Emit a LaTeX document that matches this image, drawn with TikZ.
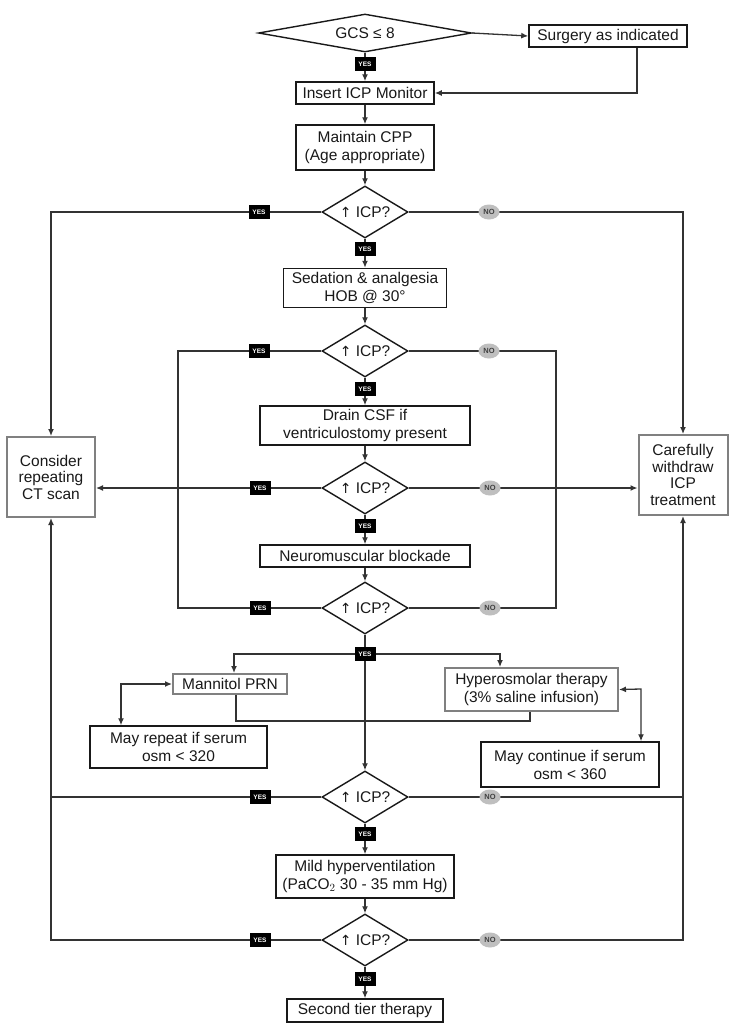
\documentclass[tikz,border=0pt]{standalone}
\usepackage{fontspec}
\setmainfont{Liberation Sans}
\newfontfamily\arrowfont{DejaVu Sans}
\usetikzlibrary{shapes.geometric,arrows.meta}
\newcommand{\uparr}{{\arrowfont\fontsize{14}{14}\selectfont ↑}}
\begin{document}
\begin{tikzpicture}[x=1pt,y=-1pt,
 conn/.style={draw=black!80, line width=1.3pt},
 arr/.style={-{Latex[length=7pt,width=6pt]}},
 darr/.style={{Latex[length=7pt,width=6pt]}-{Latex[length=7pt,width=6pt]}},
 box/.style={draw=black!90, line width=1.5pt, inner sep=0pt, align=center, fill=white, text=black!90,
   font=\fontsize{15.5}{18}\selectfont},
 gbox/.style={box, draw=black!50, line width=2pt},
 dia/.style={diamond, draw=black!90, line width=1.4pt, inner sep=0pt, fill=white, text=black!90,
   font=\fontsize{15.5}{18}\selectfont, aspect=1.6, minimum width=86pt, minimum height=52pt},
 yes/.style={fill=black, text=white, inner sep=0pt, minimum width=21pt, minimum height=14pt,
   font=\fontsize{6.5}{6.5}\bfseries\selectfont},
 no/.style={ellipse, fill=black!25, text=black!75, inner sep=0pt, minimum width=21pt, minimum height=15pt,
   font=\fontsize{7.5}{7.5}\bfseries\selectfont},
]
\useasboundingbox[fill=white] (0,0) rectangle (749,1029);

% main column
\node[dia, aspect=5.6, minimum width=213pt, minimum height=38pt] (gcs) at (365,33) {GCS ≤ 8};
\node[box, minimum width=158pt, minimum height=22pt] (surg) at (608,36) {Surgery as indicated};
\node[box, minimum width=138pt, minimum height=22pt] (ins) at (365,93) {Insert ICP Monitor};
\node[box, minimum width=138pt, minimum height=45pt] (cpp) at (365,147.5) {Maintain CPP\\(Age appropriate)};
\node[dia] (d1) at (365,212) {\uparr\ ICP?};
\node[box, minimum width=163pt, minimum height=39pt] (sed) at (365,288) {Sedation \& analgesia\\HOB @ 30°};
\node[dia] (d2) at (365,351) {\uparr\ ICP?};
\node[box, minimum width=210pt, minimum height=39pt] (drain) at (365,425.5) {Drain CSF if\\ventriculostomy present};
\node[dia] (d3) at (365,488) {\uparr\ ICP?};
\node[box, minimum width=210pt, minimum height=22pt] (neuro) at (365,556) {Neuromuscular blockade};
\node[dia] (d4) at (365,608) {\uparr\ ICP?};
\node[gbox, minimum width=114pt, minimum height=20pt] (mann) at (230,684) {Mannitol PRN};
\node[gbox, minimum width=173pt, minimum height=43pt] (hyper) at (531.5,689.5) {Hyperosmolar therapy\\(3\% saline infusion)};
\node[box, minimum width=177pt, minimum height=42pt] (rep) at (178.5,747) {May repeat if serum\\osm {<} 320};
\node[box, minimum width=178pt, minimum height=45pt] (cont) at (570,764.5) {May continue if serum\\osm {<} 360};
\node[dia] (d5) at (365,797) {\uparr\ ICP?};
\node[box, minimum width=178pt, minimum height=43pt] (mild) at (365,876.5) {Mild hyperventilation\\(PaCO$_2$ 30 - 35 mm Hg)};
\node[dia] (d6) at (365,940) {\uparr\ ICP?};
\node[box, minimum width=156pt, minimum height=23pt] (sec) at (365,1010.5) {Second tier therapy};
% side boxes
\node[gbox, minimum width=88pt, minimum height=80pt, font=\fontsize{15.5}{16.5}\selectfont] (cons) at (51,477) {Consider\\repeating\\CT scan};
\node[gbox, minimum width=89pt, minimum height=80pt, font=\fontsize{15.5}{16.5}\selectfont] (care) at (683,475) {Carefully\\withdraw\\ICP\\treatment};

% corner coordinates
\coordinate (S1) at (637,93);
\coordinate (L1) at (51,212);
\coordinate (R1) at (683,212);
\coordinate (L2) at (178,351);
\coordinate (R2) at (556,351);
\coordinate (L4) at (178,608);
\coordinate (R4) at (556,608);
\coordinate (J) at (365,654);
\coordinate (JL) at (234,654);
\coordinate (JR) at (500,654);
\coordinate (M1) at (236,721);
\coordinate (M2) at (530,721);
\coordinate (RL) at (121,684);
\coordinate (CR) at (641,689);
\coordinate (L5) at (51,797);
\coordinate (R5) at (683,797);
\coordinate (L6) at (51,940);
\coordinate (R6) at (683,940);

% connectors
\draw[conn,arr] (gcs.east) -- (surg.west);
\draw[conn,arr] (gcs.south) -- (ins.north);
\draw[conn,arr] (S1 |- surg.south) -- (S1) -- (ins.east);
\draw[conn,arr] (ins.south) -- (cpp.north);
\draw[conn,arr] (cpp.south) -- (d1.north);
\draw[conn,arr] (d1.west) -- (L1) -- (cons.north);
\draw[conn,arr] (d1.east) -- (R1) -- (care.north);
\draw[conn,arr] (d1.south) -- (sed.north);
\draw[conn,arr] (sed.south) -- (d2.north);
\draw[conn] (d2.west) -- (L2) -- (L4) -- (d4.west);
\draw[conn] (d2.east) -- (R2) -- (R4) -- (d4.east);
\draw[conn,arr] (d2.south) -- (drain.north);
\draw[conn,arr] (drain.south) -- (d3.north);
\draw[conn,arr] (d3.west) -- (d3.west -| cons.east);
\draw[conn,arr] (d3.east) -- (d3.east -| care.west);
\draw[conn,arr] (d3.south) -- (neuro.north);
\draw[conn,arr] (neuro.south) -- (d4.north);
\draw[conn] (d4.south) -- (J);
\draw[conn,arr] (J) -- (d5.north);
\draw[conn,arr] (J) -- (JL) -- (JL |- mann.north);
\draw[conn,arr] (J) -- (JR) -- (JR |- hyper.north);
\draw[conn] (M1 |- mann.south) -- (M1) -- (M2) -- (M2 |- hyper.south);
\draw[conn,darr] (mann.west) -- (RL) -- (RL |- rep.north);
\draw[conn,darr] (hyper.east) -- (CR) -- (CR |- cont.north);
\draw[conn] (d5.west) -- (L5);
\draw[conn] (d5.east) -- (R5);
\draw[conn,arr] (d5.south) -- (mild.north);
\draw[conn,arr] (mild.south) -- (d6.north);
\draw[conn,arr] (d6.west) -- (L6) -- (cons.south);
\draw[conn,arr] (d6.east) -- (R6) -- (care.south);
\draw[conn,arr] (d6.south) -- (sec.north);

% labels
\node[yes] (y0) at (365,64) {YES};
\node[yes] (y1w) at (259,212) {YES};
\node[no] (n1) at (489,212) {NO};
\node[yes] (y1s) at (365,249) {YES};
\node[yes] (y2w) at (259,351) {YES};
\node[no] (n2) at (489,351) {NO};
\node[yes] (y2s) at (365,389) {YES};
\node[yes] (y3w) at (260,488) {YES};
\node[no] (n3) at (490,488) {NO};
\node[yes] (y3s) at (365,526) {YES};
\node[yes] (y4w) at (260,608) {YES};
\node[no] (n4) at (490,608) {NO};
\node[yes] (y4s) at (365,654) {YES};
\node[yes] (y5w) at (260,797) {YES};
\node[no] (n5) at (490,797) {NO};
\node[yes] (y5s) at (365,834) {YES};
\node[yes] (y6w) at (260,940) {YES};
\node[no] (n6) at (490,940) {NO};
\node[yes] (y6s) at (365,979) {YES};
\end{tikzpicture}
\end{document}
